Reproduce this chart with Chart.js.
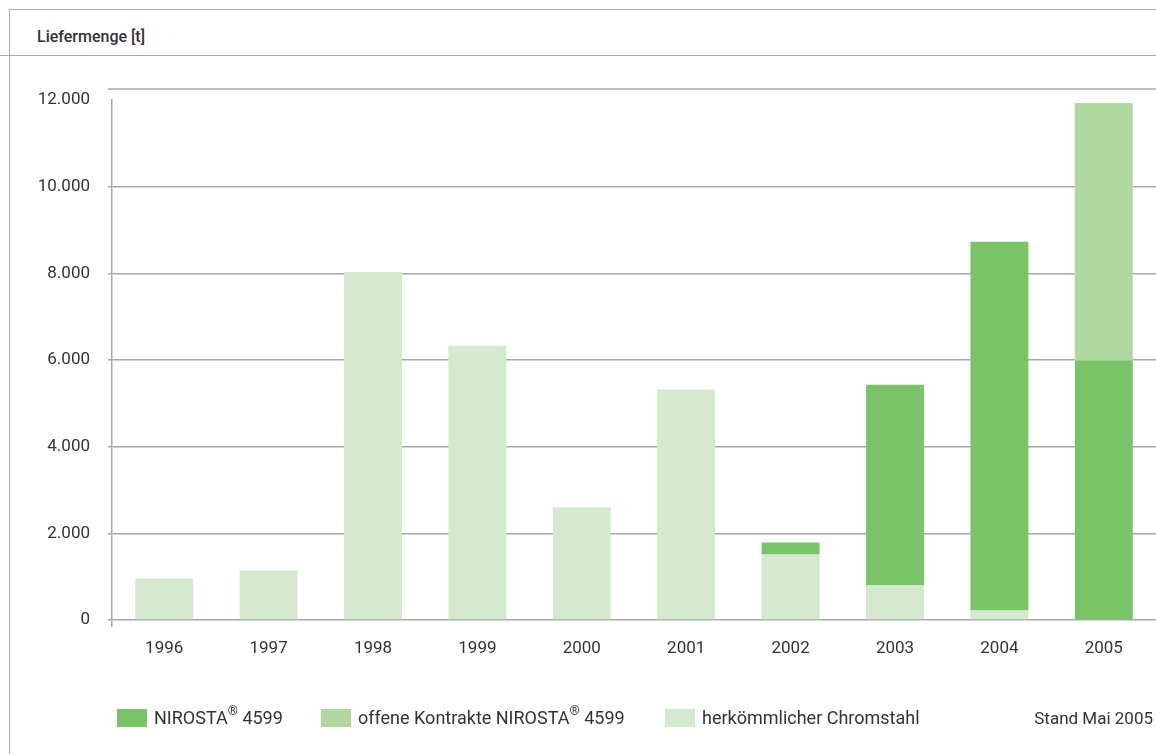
<!DOCTYPE html>
<html>
<head>
<meta charset="utf-8">
<script src="https://cdn.jsdelivr.net/npm/chart.js@4/dist/chart.umd.min.js"></script>
<style>
  html, body { margin: 0; padding: 0; background: #fff; }
  body { width: 1156px; height: 754px; position: relative; overflow: hidden; font-family: Roboto, "Noto Sans", sans-serif; color: #333; }
  .frame { position: absolute; left: 9px; top: 9px; right: -2px; bottom: -2px; border-top: 1.5px solid #aaa; border-left: 1.5px solid #aaa; }
  .headline { position: absolute; left: 0; right: 0; top: 55px; border-top: 1.5px solid #aaa; }
  .title { position: absolute; left: 37px; top: 27px; font-size: 16px; font-weight: 500; color: #333; }
  #chartBox { position: absolute; left: 0; top: 0; width: 1156px; height: 680px; }
  #legend { position: absolute; left: 0; top: 0; width: 1156px; height: 754px; pointer-events: none; }
  .item { position: absolute; top: 709px; height: 18px; line-height: 18px; font-size: 18px; color: #333; white-space: nowrap; }
  .item span.box { display: inline-block; width: 30px; height: 18px; margin-right: 7px; vertical-align: top; }
  .item sup { font-size: 13px; line-height: 0; position: relative; top: -2px; }
  .stand { position: absolute; top: 708px; right: 3px; font-size: 17px; color: #333; }
</style>
</head>
<body>
<div class="frame"></div>
<div class="headline"></div>
<div class="title">Liefermenge [t]</div>
<div id="chartBox"><canvas id="deliveryChart"></canvas></div>
<div id="legend"></div>
<div class="stand">Stand Mai 2005</div>

<script>
var years = ['1996', '1997', '1998', '1999', '2000', '2001', '2002', '2003', '2004', '2005'];
var chromstahl = [960, 1140, 8030, 6330, 2600, 5320, 1510, 800, 220, 0];
var nirosta = [0, 0, 0, 0, 0, 0, 280, 4630, 8510, 5990];
var offeneKontrakte = [0, 0, 0, 0, 0, 0, 0, 0, 0, 5940];
var yTicks = [0, 2000, 4000, 6000, 8000, 10000, 12000];

var colNirosta = '#7ac369';
var colOffen = '#b0d8a0';
var colChrom = '#d5e9cf';
var gridColor = '#a8a8a8';

document.addEventListener('DOMContentLoaded', function () {
    var ctx = document.getElementById('deliveryChart').getContext('2d');

    // top frame line sits a bit above the 12.000 gridline in the original
    var topLine = {
        id: 'topLine',
        afterDraw: function (chart) {
            var a = chart.chartArea;
            var c = chart.ctx;
            c.save();
            c.strokeStyle = gridColor;
            c.lineWidth = 1.5;
            c.beginPath();
            c.moveTo(a.left - 4, a.top - 11);
            c.lineTo(a.right, a.top - 11);
            c.stroke();
            c.restore();
        }
    };

    new Chart(ctx, {
        type: 'bar',
        data: {
            labels: years,
            datasets: [
                { label: 'herkömmlicher Chromstahl', data: chromstahl, backgroundColor: colChrom },
                { label: 'NIROSTA® 4599', data: nirosta, backgroundColor: colNirosta },
                { label: 'offene Kontrakte NIROSTA® 4599', data: offeneKontrakte, backgroundColor: colOffen }
            ]
        },
        options: {
            responsive: true,
            maintainAspectRatio: false,
            animation: false,
            layout: { padding: { top: 100, right: 0, left: 0, bottom: 0 } },
            datasets: { bar: { barPercentage: 0.555, categoryPercentage: 1, borderWidth: 0 } },
            plugins: { legend: { display: false }, tooltip: { enabled: false } },
            scales: {
                x: {
                    stacked: true,
                    afterFit: function (s) { s.height = 60; },
                    grid: {
                        drawOnChartArea: false,
                        tickLength: 7,
                        lineWidth: 1.5,
                        color: function (c) { return c.index === 0 ? gridColor : 'rgba(0,0,0,0)'; }
                    },
                    border: { display: false },
                    ticks: { padding: 12, color: '#333', font: { family: 'Roboto', size: 17 } }
                },
                y: {
                    stacked: true,
                    min: 0,
                    max: 12000,
                    afterFit: function (s) { s.width = 112; },
                    afterBuildTicks: function (s) { s.ticks = yTicks.map(function (v) { return { value: v }; }); },
                    grid: {
                        tickLength: 4,
                        lineWidth: 1.5,
                        color: function (c) { return c.tick && c.tick.value === 12000 ? 'rgba(0,0,0,0)' : gridColor; }
                    },
                    border: { display: true, color: gridColor, width: 1.5 },
                    ticks: {
                        padding: 18,
                        color: '#333',
                        font: { family: 'Roboto', size: 17 },
                        callback: function (v) { return v === 0 ? '0' : v.toLocaleString('de-DE'); }
                    }
                }
            }
        },
        plugins: [topLine]
    });

    // legend, built from the dataset names and colours
    var legendItems = [
        { html: 'NIROSTA<sup>®</sup> 4599', color: colNirosta, left: 117 },
        { html: 'offene Kontrakte NIROSTA<sup>®</sup> 4599', color: colOffen, left: 321 },
        { html: 'herkömmlicher Chromstahl', color: colChrom, left: 665 }
    ];
    var legend = document.getElementById('legend');
    legendItems.forEach(function (it) {
        var d = document.createElement('div');
        d.className = 'item';
        d.style.left = it.left + 'px';
        d.innerHTML = '<span class="box" style="background:' + it.color + '"></span><span>' + it.html + '</span>';
        legend.appendChild(d);
    });
});
</script>
</body>
</html>
